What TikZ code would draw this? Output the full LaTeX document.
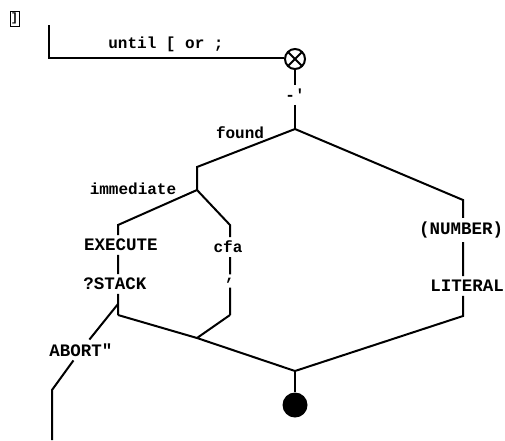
\documentclass[tikz,border=0pt]{standalone}
\usepackage{fontspec}
\setmonofont{Liberation Mono}
\begin{document}
\begin{tikzpicture}[x=1pt,y=-1pt,line width=2pt,
  word/.style={font=\ttfamily\bfseries\fontsize{16}{18}\selectfont,inner sep=3pt},
  capword/.style={font=\ttfamily\bfseries\fontsize{17.5}{19}\selectfont,inner sep=3pt},
  crossjoin/.style={draw,circle,minimum size=20pt,inner sep=0pt,
    path picture={\draw (path picture bounding box.north west) --
      (path picture bounding box.south east)
      (path picture bounding box.north east) --
      (path picture bounding box.south west);}},
  enddot/.style={circle,fill=black,minimum size=25pt,inner sep=0pt}]
  \useasboundingbox (0,0) rectangle (505,440);
  \node [draw,line width=1pt,minimum width=9pt,minimum height=15pt,inner sep=0pt,
    font=\ttfamily\bfseries\fontsize{12}{12}\selectfont] (bracket) at (14.5,18.5) {]};
  \coordinate (start) at (49,25);
  \coordinate (corner) at (49,58);
  \node [crossjoin] (join) at (295,59) {};
  \node [word] (until) at (166,44) {until [ or ;};
  \draw (start) -- (corner) -- (join.west |- corner);
  \node [word] (tick) at (295,95) {-'};
  \coordinate (fork) at (295,129);
  \draw (join.south) -- (tick.north) (tick.south) -- (fork);
  \node [word] (found) at (240,133) {found};
  \coordinate (foundbend) at (197,167);
  \coordinate (immfork) at (197,190);
  \node [word] (immediate) at (133,189) {immediate};
  \draw (fork) -- (foundbend) -- (immfork);
  \coordinate (exbend) at (118,225);
  \node [capword] (execute) at (121,245) {EXECUTE};
  \node [capword] (qstack) at (115,284) {?STACK};
  \coordinate (exend) at (118,315);
  \draw (immfork) -- (exbend) -- (exbend |- execute.north)
    (exbend |- execute.south) -- (exbend |- qstack.north)
    (exbend |- qstack.south) -- (exend);
  \coordinate (cfabend) at (230,225);
  \node [word] (cfa) at (228,247) {cfa};
  \node [word] (comma) at (230,281) {,};
  \coordinate (cfaend) at (230,315);
  \draw (immfork) -- (cfabend) -- (cfabend |- cfa.north)
    (cfabend |- cfa.south) -- (cfabend |- comma.north)
    (cfabend |- comma.south) -- (cfaend);
  \coordinate (leftjoin) at (197,338);
  \coordinate (merge) at (295,371);
  \draw (exend) -- (leftjoin) -- (merge) (cfaend) -- (leftjoin);
  \coordinate (abortstart) at (118,304);
  \node [capword] (abort) at (81,350) {ABORT"};
  \coordinate (abortbend) at (52,390);
  \coordinate (abortend) at (52,440);
  \draw (abortstart) -- (abort) -- (abortbend) -- (abortend);
  \coordinate (numbend) at (463,200);
  \node [capword] (number) at (461,230) {(NUMBER)};
  \node [capword] (literal) at (467,286) {LITERAL};
  \coordinate (litend) at (463,316);
  \draw (fork) -- (numbend) -- (numbend |- number.north)
    (numbend |- number.south) -- (numbend |- literal.north)
    (numbend |- literal.south) -- (litend) -- (merge);
  \node [enddot] (stop) at (295,405) {};
  \draw (merge) -- (stop.north);
\end{tikzpicture}
\end{document}
